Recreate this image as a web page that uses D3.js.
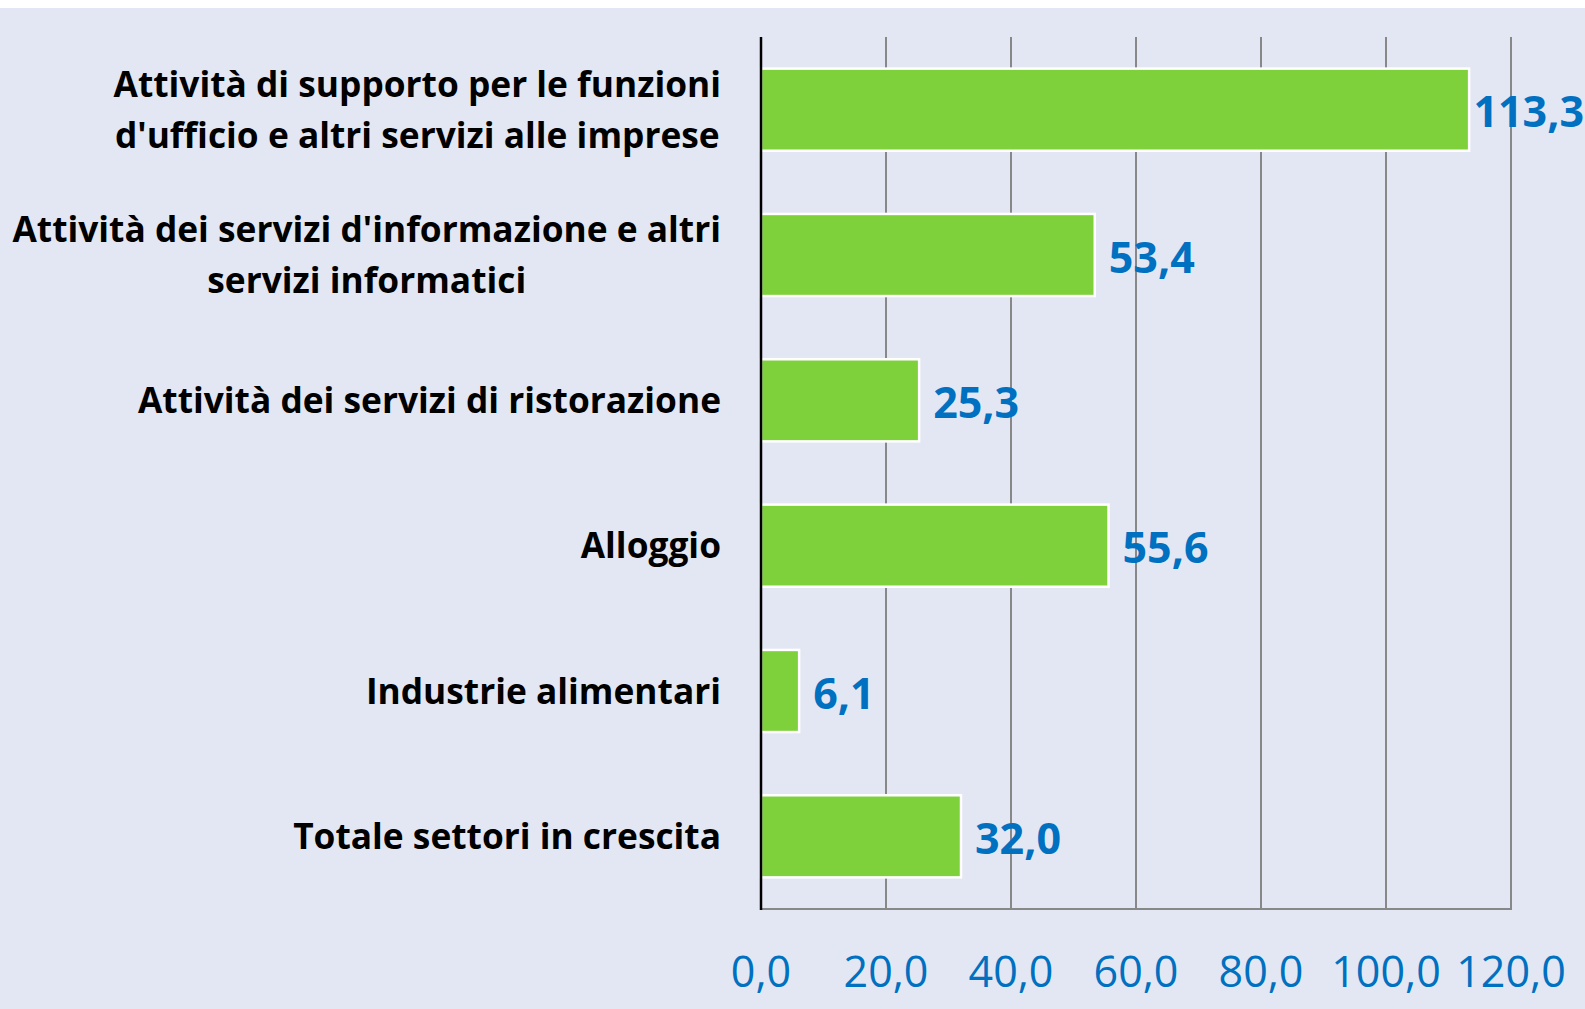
<!DOCTYPE html>
<html><head><meta charset="utf-8">
<script src="https://cdn.jsdelivr.net/npm/d3@7"></script>
<style>
html,body{margin:0;padding:0;background:#fff;}
svg{display:block;}
</style></head>
<body>
<script>
const categories = [
  ["Attività di supporto per le funzioni", "d'ufficio e altri servizi alle imprese"],
  ["Attività dei servizi d'informazione e altri", "servizi informatici"],
  ["Attività dei servizi di ristorazione"],
  ["Alloggio"],
  ["Industrie alimentari"],
  ["Totale settori in crescita"]
];
const values = [113.3, 53.4, 25.3, 55.6, 6.1, 32.0];
const tickValues = [0, 20, 40, 60, 80, 100, 120];

const W = 1585, H = 1009;
const fmt = v => v.toFixed(1).replace(".", ",");

const svg = d3.select("body").append("svg").attr("width", W).attr("height", H);
svg.append("rect").attr("x", 0).attr("y", 8).attr("width", W).attr("height", H - 8).attr("fill", "#E3E7F3");

const x = d3.scaleLinear().domain([0, 120]).range([761, 1511]);
const y = d3.scaleBand().domain(d3.range(categories.length)).range([37, 909]).paddingInner(0.435).paddingOuter(0.2175);

// gridlines
svg.append("g").selectAll("line").data(tickValues.slice(1)).join("line")
  .attr("x1", d => x(d)).attr("x2", d => x(d)).attr("y1", 37).attr("y2", 909)
  .attr("stroke", "#888888").attr("stroke-width", 2);
// bottom axis line
svg.append("line").attr("x1", x(0)).attr("x2", x(120) + 1).attr("y1", 909).attr("y2", 909)
  .attr("stroke", "#888888").attr("stroke-width", 2);

// bars
svg.append("g").selectAll("rect").data(values).join("rect")
  .attr("x", x(0)).attr("y", (d, i) => y(i))
  .attr("width", d => x(d) - x(0)).attr("height", y.bandwidth())
  .attr("fill", "#7ED13B").attr("stroke", "#FFFFFF").attr("stroke-width", 2.5);

// zero axis line
svg.append("line").attr("x1", x(0)).attr("x2", x(0)).attr("y1", 37).attr("y2", 910)
  .attr("stroke", "#000").attr("stroke-width", 2.5);

// value labels (kept inside the picture's right edge)
svg.append("g").selectAll("text").data(values).join("text")
  .attr("x", d => x(d) + 14).attr("y", (d, i) => y(i) + y.bandwidth() / 2 + 17.5)
  .attr("font-family", "'Open Sans', sans-serif").attr("font-weight", "bold")
  .attr("font-size", 43).attr("fill", "#0070C0")
  .text(d => fmt(d))
  .each(function(d) {
    const w = this.getComputedTextLength();
    const xx = Math.min(x(d) + 14, W - w - 1);
    d3.select(this).attr("x", xx);
  });

// tick labels
svg.append("g").selectAll("text").data(tickValues).join("text")
  .attr("x", d => x(d)).attr("y", 987).attr("text-anchor", "middle")
  .attr("font-family", "'Open Sans', sans-serif").attr("font-size", 43).attr("fill", "#0070C0")
  .text(d => fmt(d));

// category labels: block right-aligned at 721, lines centred within the block
const cg = svg.append("g");
categories.forEach((lines, i) => {
  const cy = y(i) + y.bandwidth() / 2;
  const lh = 51;
  const t = cg.append("text")
    .attr("font-family", "'Open Sans', sans-serif").attr("font-weight", "bold")
    .attr("font-size", 35.3).attr("fill", "#000");
  const spans = lines.map((ln, j) => {
    const yy = cy + (j - (lines.length - 1) / 2) * lh + 12.5;
    return t.append("tspan").attr("y", yy).text(ln);
  });
  const widths = spans.map(s => s.node().getComputedTextLength());
  const maxW = d3.max(widths);
  const centre = 721 - maxW / 2;
  spans.forEach(s => s.attr("x", centre).attr("text-anchor", "middle"));
});
</script>
</body></html>
